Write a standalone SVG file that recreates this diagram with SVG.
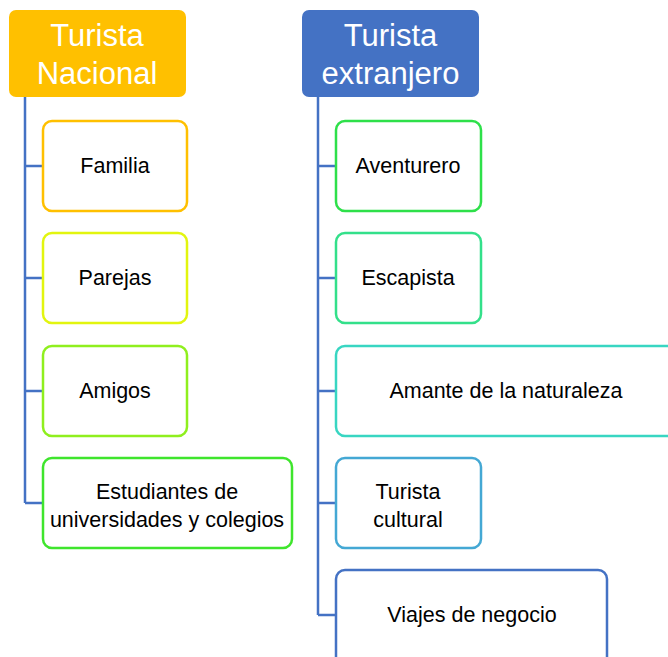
<svg xmlns="http://www.w3.org/2000/svg" width="668" height="657" viewBox="0 0 668 657">
<style>
  .title { font-family: "Liberation Sans", Arial, sans-serif; font-size: 31px; fill: #ffffff; text-anchor: middle; }
  .lbl { font-family: "Liberation Sans", Arial, sans-serif; font-size: 21.5px; fill: #000000; text-anchor: middle; }
  .child { fill: #ffffff; stroke-width: 2.5; }
  .conn { fill: none; stroke: #4472C4; stroke-width: 2.5; }
</style>
<rect width="668" height="657" fill="#ffffff"/>
<g id="connectors">
  <path class="conn" d="M25 97 V503 M25 166 H43 M25 278 H43 M25 391 H43 M25 503 H43"/>
  <path class="conn" d="M318 97 V615 M318 166 H336 M318 278 H336 M318 391 H336 M318 503 H336 M318 615 H336"/>
</g>
<g id="turista-nacional">
  <rect x="9" y="10" width="177" height="87" rx="7" fill="#FFC000"/>
  <text class="title" x="97" y="46">Turista</text>
  <text class="title" x="97" y="84">Nacional</text>
</g>
<g id="familia">
  <rect class="child" x="43" y="121" width="144" height="90" rx="9" stroke="#FFC000"/>
  <text class="lbl" x="115" y="173">Familia</text>
</g>
<g id="parejas">
  <rect class="child" x="43" y="233" width="144" height="90" rx="9" stroke="#E2F50F"/>
  <text class="lbl" x="115" y="285">Parejas</text>
</g>
<g id="amigos">
  <rect class="child" x="43" y="346" width="144" height="90" rx="9" stroke="#8FEF1E"/>
  <text class="lbl" x="115" y="398">Amigos</text>
</g>
<g id="estudiantes">
  <rect class="child" x="43" y="458" width="249" height="90" rx="9" stroke="#3FE52D"/>
  <text class="lbl" x="167" y="499">Estudiantes de</text>
  <text class="lbl" x="167" y="527">universidades y colegios</text>
</g>
<g id="turista-extranjero">
  <rect x="302" y="10" width="177" height="87" rx="7" fill="#4472C4"/>
  <text class="title" x="390.5" y="46">Turista</text>
  <text class="title" x="390.5" y="84">extranjero</text>
</g>
<g id="aventurero">
  <rect class="child" x="336" y="121" width="145" height="90" rx="9" stroke="#2EE04A"/>
  <text class="lbl" x="408" y="173">Aventurero</text>
</g>
<g id="escapista">
  <rect class="child" x="336" y="233" width="145" height="90" rx="9" stroke="#33E08A"/>
  <text class="lbl" x="408" y="285">Escapista</text>
</g>
<g id="amante">
  <rect class="child" x="336" y="346" width="345" height="90" rx="9" stroke="#38D6C2"/>
  <text class="lbl" x="506" y="398">Amante de la naturaleza</text>
</g>
<g id="turista-cultural">
  <rect class="child" x="336" y="458" width="145" height="90" rx="9" stroke="#44A8D4"/>
  <text class="lbl" x="408" y="499">Turista</text>
  <text class="lbl" x="408" y="527">cultural</text>
</g>
<g id="viajes">
  <rect class="child" x="336" y="570" width="271" height="100" rx="9" stroke="#4472C4"/>
  <text class="lbl" x="472" y="622">Viajes de negocio</text>
</g>
</svg>
